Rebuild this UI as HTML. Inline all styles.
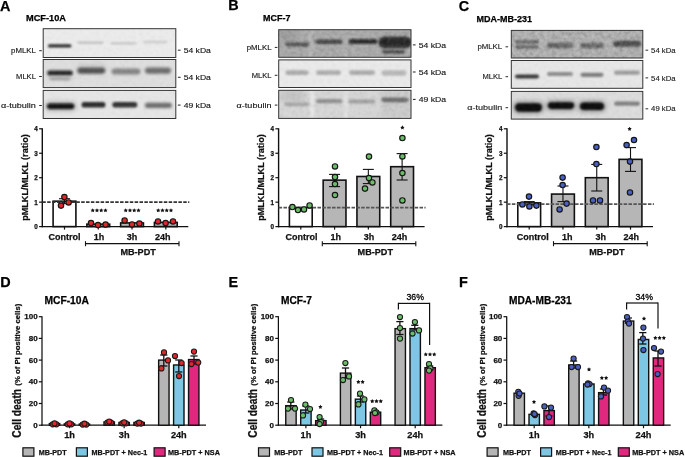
<!DOCTYPE html>
<html><head><meta charset="utf-8"><title>Figure</title>
<style>html,body{margin:0;padding:0;background:#fff;width:685px;height:457px;overflow:hidden}svg{display:block;font-family:"Liberation Sans", sans-serif;will-change:transform;opacity:0.999}</style>
</head><body>
<svg width="685" height="457" viewBox="0 0 685 457" font-family='"Liberation Sans", sans-serif'><defs><filter id="nz" x="0" y="0" width="100%" height="100%"><feTurbulence type="fractalNoise" baseFrequency="0.25" numOctaves="3" seed="7"/><feColorMatrix type="matrix" values="1 0 0 0 0  1 0 0 0 0  1 0 0 0 0  0 0 0 0 1"/></filter><filter id="b1" x="-50%" y="-100%" width="200%" height="300%"><feGaussianBlur stdDeviation="0.9"/></filter><filter id="b2" x="-50%" y="-100%" width="200%" height="300%"><feGaussianBlur stdDeviation="1.25"/></filter><filter id="b3" x="-50%" y="-100%" width="200%" height="300%"><feGaussianBlur stdDeviation="2.5"/></filter><filter id="b4" x="-50%" y="-100%" width="200%" height="300%"><feGaussianBlur stdDeviation="1.8"/></filter></defs><rect width="685" height="457" fill="#fff"/><text x="0.00" y="10.90" font-size="14.4" font-weight="bold" text-anchor="start" fill="#000" stroke="#000" stroke-width="0.25" >A</text>
<text x="228.30" y="10.40" font-size="14.4" font-weight="bold" text-anchor="start" fill="#000" stroke="#000" stroke-width="0.25" >B</text>
<text x="458.70" y="10.90" font-size="14.4" font-weight="bold" text-anchor="start" fill="#000" stroke="#000" stroke-width="0.25" >C</text>
<text x="0.20" y="287.40" font-size="14.4" font-weight="bold" text-anchor="start" fill="#000" stroke="#000" stroke-width="0.25" >D</text>
<text x="228.40" y="287.40" font-size="14.4" font-weight="bold" text-anchor="start" fill="#000" stroke="#000" stroke-width="0.25" >E</text>
<text x="459.00" y="287.40" font-size="14.4" font-weight="bold" text-anchor="start" fill="#000" stroke="#000" stroke-width="0.25" >F</text>
<text x="26.00" y="21.30" font-size="9.1" font-weight="bold" text-anchor="start" fill="#000" stroke="#000" stroke-width="0.25" textLength="40.00" lengthAdjust="spacingAndGlyphs" >MCF-10A</text>
<text x="263.00" y="21.00" font-size="9.1" font-weight="bold" text-anchor="start" fill="#000" stroke="#000" stroke-width="0.25" textLength="27.40" lengthAdjust="spacingAndGlyphs" >MCF-7</text>
<text x="476.60" y="21.90" font-size="9.1" font-weight="bold" text-anchor="start" fill="#000" stroke="#000" stroke-width="0.25" textLength="55.40" lengthAdjust="spacingAndGlyphs" >MDA-MB-231</text>
<clipPath id="c43_0"><rect x="43.20" y="28.70" width="132.60" height="28.80"/></clipPath>
<g clip-path="url(#c43_0)">
<rect x="43.20" y="28.70" width="132.60" height="28.80" fill="#ededed" stroke="none" stroke-width="1" />
<rect x="47.95" y="44.20" width="23.50" height="3.40" rx="1.70" fill="#262626" filter="url(#b1)"/>
<rect x="77.30" y="41.50" width="26.00" height="2.60" rx="1.30" fill="#c2c2c2" filter="url(#b2)"/>
<rect x="110.50" y="41.90" width="26.00" height="2.60" rx="1.30" fill="#c8c8c8" filter="url(#b2)"/>
<rect x="143.00" y="40.70" width="24.00" height="2.60" rx="1.30" fill="#cbcbcb" filter="url(#b2)"/>
<rect x="43.20" y="28.70" width="132.60" height="28.80" filter="url(#nz)" opacity="0.05"/>
</g>
<rect x="43.20" y="28.70" width="132.60" height="28.80" fill="none" stroke="#333" stroke-width="1" />
<clipPath id="c43_1"><rect x="43.20" y="59.50" width="132.60" height="28.10"/></clipPath>
<g clip-path="url(#c43_1)">
<rect x="43.20" y="59.50" width="132.60" height="28.10" fill="#e0e0e0" stroke="none" stroke-width="1" />
<rect x="76.00" y="62.00" width="30.00" height="8.00" rx="4.00" fill="#d2d2d2" filter="url(#b3)"/>
<rect x="47.00" y="70.00" width="26.00" height="6.00" rx="3.00" fill="#777" filter="url(#b4)"/>
<rect x="47.75" y="71.20" width="24.50" height="3.60" rx="1.80" fill="#1a1a1a" filter="url(#b1)"/>
<rect x="49.00" y="76.90" width="22.00" height="3.40" rx="1.70" fill="#999" filter="url(#b4)"/>
<rect x="77.30" y="67.40" width="28.00" height="6.40" rx="3.20" fill="#4a4a4a" filter="url(#b4)"/>
<rect x="111.50" y="68.50" width="29.00" height="6.00" rx="3.00" fill="#7f7f7f" filter="url(#b4)"/>
<rect x="145.00" y="67.40" width="26.00" height="6.40" rx="3.20" fill="#686868" filter="url(#b4)"/>
<rect x="43.20" y="59.50" width="132.60" height="28.10" filter="url(#nz)" opacity="0.06"/>
</g>
<rect x="43.20" y="59.50" width="132.60" height="28.10" fill="none" stroke="#333" stroke-width="1" />
<clipPath id="c43_2"><rect x="43.20" y="90.40" width="132.60" height="28.10"/></clipPath>
<g clip-path="url(#c43_2)">
<rect x="43.20" y="90.40" width="132.60" height="28.10" fill="#e7e7e7" stroke="none" stroke-width="1" />
<rect x="45.70" y="102.20" width="30.00" height="8.00" rx="4.00" fill="#9a9a9a" filter="url(#b3)"/>
<rect x="47.20" y="103.40" width="27.00" height="5.60" rx="2.80" fill="#0a0a0a" filter="url(#b2)"/>
<rect x="81.50" y="102.00" width="24.00" height="5.60" rx="2.80" fill="#262626" filter="url(#b2)"/>
<rect x="112.30" y="102.00" width="25.00" height="5.60" rx="2.80" fill="#2e2e2e" filter="url(#b2)"/>
<rect x="144.90" y="102.80" width="27.00" height="5.20" rx="2.60" fill="#666" filter="url(#b4)"/>
<rect x="43.20" y="90.40" width="132.60" height="28.10" filter="url(#nz)" opacity="0.05"/>
</g>
<rect x="43.20" y="90.40" width="132.60" height="28.10" fill="none" stroke="#333" stroke-width="1" />
<clipPath id="c278_0"><rect x="278.70" y="29.70" width="132.30" height="27.60"/></clipPath>
<g clip-path="url(#c278_0)">
<rect x="278.70" y="29.70" width="132.30" height="27.60" fill="#a3a3a3" stroke="none" stroke-width="1" />
<rect x="277.00" y="30.00" width="22.00" height="10.00" rx="5.00" fill="#939393" filter="url(#b3)"/>
<rect x="309.00" y="29.00" width="4.00" height="30.00" rx="3.00" fill="#b0b0b0" filter="url(#b2)"/>
<rect x="344.00" y="29.00" width="4.00" height="30.00" rx="3.00" fill="#ababab" filter="url(#b2)"/>
<rect x="285.30" y="42.40" width="24.00" height="4.00" rx="2.00" fill="#383838" filter="url(#b2)"/>
<rect x="315.50" y="39.60" width="27.00" height="4.40" rx="2.20" fill="#262626" filter="url(#b2)"/>
<rect x="348.50" y="38.90" width="29.00" height="5.20" rx="2.60" fill="#111" filter="url(#b2)"/>
<rect x="378.50" y="36.40" width="33.00" height="12.00" rx="6.00" fill="#1a1a1a" filter="url(#b2)"/>
<rect x="380.00" y="38.70" width="30.00" height="7.00" rx="3.50" fill="#000" filter="url(#b1)"/>
<rect x="382.00" y="49.90" width="23.00" height="3.80" rx="1.90" fill="#333" filter="url(#b2)"/>
<rect x="278.70" y="29.70" width="132.30" height="27.60" filter="url(#nz)" opacity="0.22"/>
</g>
<rect x="278.70" y="29.70" width="132.30" height="27.60" fill="none" stroke="#333" stroke-width="1" />
<clipPath id="c278_1"><rect x="278.70" y="59.90" width="132.30" height="27.60"/></clipPath>
<g clip-path="url(#c278_1)">
<rect x="278.70" y="59.90" width="132.30" height="27.60" fill="#ebebeb" stroke="none" stroke-width="1" />
<rect x="285.50" y="70.30" width="23.00" height="4.80" rx="2.40" fill="#a9a9a9" filter="url(#b2)"/>
<rect x="316.00" y="70.30" width="25.00" height="4.80" rx="2.40" fill="#adadad" filter="url(#b2)"/>
<rect x="349.00" y="70.30" width="26.00" height="4.80" rx="2.40" fill="#ababab" filter="url(#b2)"/>
<rect x="381.50" y="70.20" width="25.00" height="5.60" rx="2.80" fill="#b8b8b8" filter="url(#b2)"/>
<rect x="278.70" y="59.90" width="132.30" height="27.60" filter="url(#nz)" opacity="0.06"/>
</g>
<rect x="278.70" y="59.90" width="132.30" height="27.60" fill="none" stroke="#333" stroke-width="1" />
<clipPath id="c278_2"><rect x="278.70" y="90.30" width="132.30" height="28.10"/></clipPath>
<g clip-path="url(#c278_2)">
<rect x="278.70" y="90.30" width="132.30" height="28.10" fill="#d8d8d8" stroke="none" stroke-width="1" />
<rect x="280.00" y="90.00" width="26.00" height="12.00" rx="6.00" fill="#c4c4c4" filter="url(#b3)"/>
<rect x="310.00" y="89.00" width="4.00" height="30.00" rx="3.00" fill="#e8e8e8" filter="url(#b2)"/>
<rect x="344.00" y="89.00" width="4.00" height="30.00" rx="3.00" fill="#e4e4e4" filter="url(#b2)"/>
<rect x="381.00" y="89.00" width="30.00" height="30.00" rx="3.00" fill="#cbcbcb" filter="url(#b3)"/>
<rect x="284.50" y="102.40" width="25.00" height="3.80" rx="1.90" fill="#a2a2a2" filter="url(#b2)"/>
<rect x="316.00" y="99.10" width="26.00" height="4.20" rx="2.10" fill="#8a8a8a" filter="url(#b2)"/>
<rect x="348.50" y="99.40" width="27.00" height="4.00" rx="2.00" fill="#9a9a9a" filter="url(#b2)"/>
<rect x="381.50" y="97.40" width="27.00" height="4.80" rx="2.40" fill="#646464" filter="url(#b2)"/>
<rect x="278.70" y="90.30" width="132.30" height="28.10" filter="url(#nz)" opacity="0.12"/>
</g>
<rect x="278.70" y="90.30" width="132.30" height="28.10" fill="none" stroke="#333" stroke-width="1" />
<clipPath id="c511_0"><rect x="511.30" y="30.40" width="131.50" height="27.60"/></clipPath>
<g clip-path="url(#c511_0)">
<rect x="511.30" y="30.40" width="131.50" height="27.60" fill="#a8a8a8" stroke="none" stroke-width="1" />
<rect x="515.50" y="40.30" width="23.00" height="3.20" rx="1.60" fill="#3a3a3a" filter="url(#b2)"/>
<rect x="515.50" y="45.40" width="23.00" height="3.20" rx="1.60" fill="#3a3a3a" filter="url(#b2)"/>
<rect x="547.00" y="42.50" width="26.00" height="6.00" rx="3.00" fill="#4a4a4a" filter="url(#b2)"/>
<rect x="580.00" y="42.90" width="24.00" height="5.40" rx="2.70" fill="#444" filter="url(#b2)"/>
<rect x="613.00" y="40.70" width="28.00" height="6.00" rx="3.00" fill="#222" filter="url(#b2)"/>
<rect x="511.30" y="30.40" width="131.50" height="27.60" filter="url(#nz)" opacity="0.3"/>
</g>
<rect x="511.30" y="30.40" width="131.50" height="27.60" fill="none" stroke="#333" stroke-width="1" />
<clipPath id="c511_1"><rect x="511.30" y="60.50" width="131.50" height="27.80"/></clipPath>
<g clip-path="url(#c511_1)">
<rect x="511.30" y="60.50" width="131.50" height="27.80" fill="#e8e8e8" stroke="none" stroke-width="1" />
<rect x="515.00" y="74.40" width="24.00" height="4.00" rx="2.00" fill="#333" filter="url(#b1)"/>
<rect x="547.00" y="71.90" width="26.00" height="4.20" rx="2.10" fill="#8a8a8a" filter="url(#b2)"/>
<rect x="580.50" y="72.70" width="23.00" height="4.20" rx="2.10" fill="#7a7a7a" filter="url(#b2)"/>
<rect x="614.00" y="70.60" width="26.00" height="4.20" rx="2.10" fill="#9a9a9a" filter="url(#b2)"/>
<rect x="511.30" y="60.50" width="131.50" height="27.80" filter="url(#nz)" opacity="0.06"/>
</g>
<rect x="511.30" y="60.50" width="131.50" height="27.80" fill="none" stroke="#333" stroke-width="1" />
<clipPath id="c511_2"><rect x="511.30" y="91.40" width="131.50" height="27.70"/></clipPath>
<g clip-path="url(#c511_2)">
<rect x="511.30" y="91.40" width="131.50" height="27.70" fill="#dedede" stroke="none" stroke-width="1" />
<rect x="513.00" y="101.50" width="31.00" height="12.00" rx="6.00" fill="#8a8a8a" filter="url(#b3)"/>
<rect x="546.00" y="100.60" width="30.00" height="10.00" rx="5.00" fill="#8a8a8a" filter="url(#b3)"/>
<rect x="578.00" y="100.80" width="28.00" height="11.00" rx="5.50" fill="#8a8a8a" filter="url(#b3)"/>
<rect x="515.00" y="103.30" width="27.00" height="8.40" rx="4.20" fill="#000" filter="url(#b1)"/>
<rect x="548.00" y="102.30" width="26.00" height="6.60" rx="3.30" fill="#000" filter="url(#b1)"/>
<rect x="580.00" y="102.50" width="24.00" height="7.60" rx="3.80" fill="#000" filter="url(#b1)"/>
<rect x="614.00" y="101.40" width="26.00" height="4.40" rx="2.20" fill="#7c7c7c" filter="url(#b2)"/>
<rect x="511.30" y="91.40" width="131.50" height="27.70" filter="url(#nz)" opacity="0.08"/>
</g>
<rect x="511.30" y="91.40" width="131.50" height="27.70" fill="none" stroke="#333" stroke-width="1" />
<text x="11.10" y="53.20" font-size="7.6" font-weight="normal" text-anchor="start" fill="#151515" textLength="24.80" lengthAdjust="spacingAndGlyphs" stroke="#151515" stroke-width="0.14">pMLKL</text>
<line x1="39.20" y1="50.70" x2="41.80" y2="50.70" stroke="#151515" stroke-width="0.95" />
<text x="16.10" y="79.00" font-size="7.6" font-weight="normal" text-anchor="start" fill="#151515" textLength="19.80" lengthAdjust="spacingAndGlyphs" stroke="#151515" stroke-width="0.14">MLKL</text>
<line x1="39.20" y1="76.50" x2="41.80" y2="76.50" stroke="#151515" stroke-width="0.95" />
<text x="1.00" y="108.00" font-size="7.6" font-weight="normal" text-anchor="start" fill="#151515" textLength="34.90" lengthAdjust="spacingAndGlyphs" stroke="#151515" stroke-width="0.14">α-tubulin</text>
<line x1="39.20" y1="105.50" x2="41.80" y2="105.50" stroke="#151515" stroke-width="0.95" />
<line x1="177.90" y1="50.20" x2="180.60" y2="50.20" stroke="#151515" stroke-width="0.95" />
<text x="183.70" y="52.80" font-size="8.1" font-weight="normal" text-anchor="start" fill="#151515" textLength="27.20" lengthAdjust="spacingAndGlyphs" stroke="#151515" stroke-width="0.14">54 kDa</text>
<line x1="177.90" y1="77.30" x2="180.60" y2="77.30" stroke="#151515" stroke-width="0.95" />
<text x="183.70" y="79.90" font-size="8.1" font-weight="normal" text-anchor="start" fill="#151515" textLength="27.20" lengthAdjust="spacingAndGlyphs" stroke="#151515" stroke-width="0.14">54 kDa</text>
<line x1="177.90" y1="105.10" x2="180.60" y2="105.10" stroke="#151515" stroke-width="0.95" />
<text x="183.70" y="107.70" font-size="8.1" font-weight="normal" text-anchor="start" fill="#151515" textLength="27.20" lengthAdjust="spacingAndGlyphs" stroke="#151515" stroke-width="0.14">49 kDa</text>
<text x="246.70" y="49.90" font-size="7.6" font-weight="normal" text-anchor="start" fill="#151515" textLength="24.80" lengthAdjust="spacingAndGlyphs" stroke="#151515" stroke-width="0.14">pMLKL</text>
<line x1="274.80" y1="47.40" x2="277.40" y2="47.40" stroke="#151515" stroke-width="0.95" />
<text x="251.70" y="77.80" font-size="7.6" font-weight="normal" text-anchor="start" fill="#151515" textLength="19.80" lengthAdjust="spacingAndGlyphs" stroke="#151515" stroke-width="0.14">MLKL</text>
<line x1="274.80" y1="75.30" x2="277.40" y2="75.30" stroke="#151515" stroke-width="0.95" />
<text x="236.60" y="107.60" font-size="7.6" font-weight="normal" text-anchor="start" fill="#151515" textLength="34.90" lengthAdjust="spacingAndGlyphs" stroke="#151515" stroke-width="0.14">α-tubulin</text>
<line x1="274.80" y1="105.10" x2="277.40" y2="105.10" stroke="#151515" stroke-width="0.95" />
<line x1="412.90" y1="44.90" x2="415.60" y2="44.90" stroke="#151515" stroke-width="0.95" />
<text x="418.70" y="47.50" font-size="8.1" font-weight="normal" text-anchor="start" fill="#151515" textLength="27.40" lengthAdjust="spacingAndGlyphs" stroke="#151515" stroke-width="0.14">54 kDa</text>
<line x1="412.90" y1="72.00" x2="415.60" y2="72.00" stroke="#151515" stroke-width="0.95" />
<text x="418.70" y="74.60" font-size="8.1" font-weight="normal" text-anchor="start" fill="#151515" textLength="27.40" lengthAdjust="spacingAndGlyphs" stroke="#151515" stroke-width="0.14">54 kDa</text>
<line x1="412.90" y1="99.40" x2="415.60" y2="99.40" stroke="#151515" stroke-width="0.95" />
<text x="418.70" y="102.00" font-size="8.1" font-weight="normal" text-anchor="start" fill="#151515" textLength="27.40" lengthAdjust="spacingAndGlyphs" stroke="#151515" stroke-width="0.14">49 kDa</text>
<text x="477.40" y="49.30" font-size="7.6" font-weight="normal" text-anchor="start" fill="#222" textLength="24.80" lengthAdjust="spacingAndGlyphs" stroke="#222" stroke-width="0.14">pMLKL</text>
<line x1="505.50" y1="46.80" x2="508.10" y2="46.80" stroke="#222" stroke-width="0.95" />
<text x="482.40" y="79.20" font-size="7.6" font-weight="normal" text-anchor="start" fill="#222" textLength="19.80" lengthAdjust="spacingAndGlyphs" stroke="#222" stroke-width="0.14">MLKL</text>
<line x1="505.50" y1="76.70" x2="508.10" y2="76.70" stroke="#222" stroke-width="0.95" />
<text x="467.30" y="110.20" font-size="7.6" font-weight="normal" text-anchor="start" fill="#222" textLength="34.90" lengthAdjust="spacingAndGlyphs" stroke="#222" stroke-width="0.14">α-tubulin</text>
<line x1="505.50" y1="107.70" x2="508.10" y2="107.70" stroke="#222" stroke-width="0.95" />
<line x1="645.50" y1="50.20" x2="648.20" y2="50.20" stroke="#222" stroke-width="0.95" />
<text x="651.10" y="52.80" font-size="8.1" font-weight="normal" text-anchor="start" fill="#222" textLength="24.50" lengthAdjust="spacingAndGlyphs" stroke="#222" stroke-width="0.14">54 kDa</text>
<line x1="645.50" y1="77.90" x2="648.20" y2="77.90" stroke="#222" stroke-width="0.95" />
<text x="651.10" y="80.50" font-size="8.1" font-weight="normal" text-anchor="start" fill="#222" textLength="24.50" lengthAdjust="spacingAndGlyphs" stroke="#222" stroke-width="0.14">54 kDa</text>
<line x1="645.50" y1="108.80" x2="648.20" y2="108.80" stroke="#222" stroke-width="0.95" />
<text x="651.10" y="111.40" font-size="8.1" font-weight="normal" text-anchor="start" fill="#222" textLength="24.50" lengthAdjust="spacingAndGlyphs" stroke="#222" stroke-width="0.14">49 kDa</text>
<line x1="42.30" y1="128.30" x2="42.30" y2="227.30" stroke="#111" stroke-width="1.4" />
<line x1="41.60" y1="226.60" x2="188.30" y2="226.60" stroke="#111" stroke-width="1.4" />
<line x1="39.10" y1="226.60" x2="42.30" y2="226.60" stroke="#111" stroke-width="1.2" />
<text x="37.80" y="229.10" font-size="6.3" font-weight="bold" text-anchor="end" fill="#111" stroke="#111" stroke-width="0.25" >0</text>
<line x1="39.10" y1="202.15" x2="42.30" y2="202.15" stroke="#111" stroke-width="1.2" />
<text x="37.80" y="204.65" font-size="6.3" font-weight="bold" text-anchor="end" fill="#111" stroke="#111" stroke-width="0.25" >1</text>
<line x1="39.10" y1="177.70" x2="42.30" y2="177.70" stroke="#111" stroke-width="1.2" />
<text x="37.80" y="180.20" font-size="6.3" font-weight="bold" text-anchor="end" fill="#111" stroke="#111" stroke-width="0.25" >2</text>
<line x1="39.10" y1="153.25" x2="42.30" y2="153.25" stroke="#111" stroke-width="1.2" />
<text x="37.80" y="155.75" font-size="6.3" font-weight="bold" text-anchor="end" fill="#111" stroke="#111" stroke-width="0.25" >3</text>
<line x1="39.10" y1="128.80" x2="42.30" y2="128.80" stroke="#111" stroke-width="1.2" />
<text x="37.80" y="131.30" font-size="6.3" font-weight="bold" text-anchor="end" fill="#111" stroke="#111" stroke-width="0.25" >4</text>
<rect x="53.10" y="201.17" width="22.80" height="25.43" fill="#fff" stroke="#111" stroke-width="1.6" />
<line x1="64.50" y1="226.60" x2="64.50" y2="229.60" stroke="#111" stroke-width="1.2" />
<rect x="86.87" y="224.16" width="22.80" height="2.44" fill="#b6b6b6" stroke="#111" stroke-width="1.6" />
<line x1="98.27" y1="226.60" x2="98.27" y2="229.60" stroke="#111" stroke-width="1.2" />
<rect x="120.64" y="222.93" width="22.80" height="3.67" fill="#b6b6b6" stroke="#111" stroke-width="1.6" />
<line x1="132.04" y1="226.60" x2="132.04" y2="229.60" stroke="#111" stroke-width="1.2" />
<rect x="154.41" y="222.44" width="22.80" height="4.16" fill="#b6b6b6" stroke="#111" stroke-width="1.6" />
<line x1="165.81" y1="226.60" x2="165.81" y2="229.60" stroke="#111" stroke-width="1.2" />
<line x1="42.30" y1="202.15" x2="189.30" y2="202.15" stroke="#333" stroke-width="1.7" stroke-dasharray="3.5 1.36"/>
<line x1="64.50" y1="198.73" x2="64.50" y2="203.62" stroke="#111" stroke-width="1.1" />
<line x1="59.00" y1="198.73" x2="70.00" y2="198.73" stroke="#111" stroke-width="1.1" />
<line x1="59.00" y1="203.62" x2="70.00" y2="203.62" stroke="#111" stroke-width="1.1" />
<circle cx="64.40" cy="197.00" r="2.7" fill="#e3262b" stroke="#151515" stroke-width="1.15"/>
<circle cx="68.60" cy="202.40" r="2.7" fill="#e3262b" stroke="#151515" stroke-width="1.15"/>
<circle cx="61.00" cy="205.60" r="2.7" fill="#e3262b" stroke="#151515" stroke-width="1.15"/>
<circle cx="91.00" cy="223.00" r="2.7" fill="#e3262b" stroke="#151515" stroke-width="1.15"/>
<circle cx="98.00" cy="225.00" r="2.7" fill="#e3262b" stroke="#151515" stroke-width="1.15"/>
<circle cx="105.60" cy="224.60" r="2.7" fill="#e3262b" stroke="#151515" stroke-width="1.15"/>
<circle cx="124.60" cy="220.40" r="2.7" fill="#e3262b" stroke="#151515" stroke-width="1.15"/>
<circle cx="132.00" cy="224.40" r="2.7" fill="#e3262b" stroke="#151515" stroke-width="1.15"/>
<circle cx="139.40" cy="223.60" r="2.7" fill="#e3262b" stroke="#151515" stroke-width="1.15"/>
<circle cx="158.00" cy="221.40" r="2.7" fill="#e3262b" stroke="#151515" stroke-width="1.15"/>
<circle cx="165.60" cy="223.00" r="2.7" fill="#e3262b" stroke="#151515" stroke-width="1.15"/>
<circle cx="173.00" cy="221.40" r="2.7" fill="#e3262b" stroke="#151515" stroke-width="1.15"/>
<text x="64.60" y="239.90" font-size="9.0" font-weight="bold" text-anchor="middle" fill="#111" stroke="#111" stroke-width="0.25" >Control</text>
<text x="99.10" y="239.90" font-size="9.0" font-weight="bold" text-anchor="middle" fill="#111" stroke="#111" stroke-width="0.25" >1h</text>
<text x="132.10" y="239.90" font-size="9.0" font-weight="bold" text-anchor="middle" fill="#111" stroke="#111" stroke-width="0.25" >3h</text>
<text x="162.70" y="239.90" font-size="9.0" font-weight="bold" text-anchor="middle" fill="#111" stroke="#111" stroke-width="0.25" >24h</text>
<line x1="85.50" y1="243.60" x2="179.00" y2="243.60" stroke="#111" stroke-width="1.1" />
<line x1="85.50" y1="241.20" x2="85.50" y2="246.20" stroke="#111" stroke-width="1.1" />
<line x1="179.00" y1="241.20" x2="179.00" y2="246.20" stroke="#111" stroke-width="1.1" />
<text x="138.10" y="255.20" font-size="9.1" font-weight="bold" text-anchor="middle" fill="#111" stroke="#111" stroke-width="0.25" >MB-PDT</text>
<text x="28.00" y="177.50" font-size="9.1" font-weight="bold" text-anchor="middle" fill="#111" stroke="#111" stroke-width="0.25" textLength="86.70" lengthAdjust="spacingAndGlyphs" transform="rotate(-90 28.00 177.50)" >pMLKL/MLKL (ratio)</text>
<polygon points="92.72,208.15 93.41,209.45 94.86,209.70 93.84,210.76 94.05,212.22 92.72,211.57 91.40,212.22 91.61,210.76 90.59,209.70 92.04,209.45" fill="#111"/>
<polygon points="96.97,208.15 97.66,209.45 99.11,209.70 98.09,210.76 98.30,212.22 96.97,211.57 95.65,212.22 95.86,210.76 94.84,209.70 96.29,209.45" fill="#111"/>
<polygon points="101.22,208.15 101.91,209.45 103.36,209.70 102.34,210.76 102.55,212.22 101.22,211.57 99.90,212.22 100.11,210.76 99.09,209.70 100.54,209.45" fill="#111"/>
<polygon points="105.47,208.15 106.16,209.45 107.61,209.70 106.59,210.76 106.80,212.22 105.47,211.57 104.15,212.22 104.36,210.76 103.34,209.70 104.79,209.45" fill="#111"/>
<polygon points="125.72,208.15 126.41,209.45 127.86,209.70 126.84,210.76 127.05,212.22 125.72,211.57 124.40,212.22 124.61,210.76 123.59,209.70 125.04,209.45" fill="#111"/>
<polygon points="129.97,208.15 130.66,209.45 132.11,209.70 131.09,210.76 131.30,212.22 129.97,211.57 128.65,212.22 128.86,210.76 127.84,209.70 129.29,209.45" fill="#111"/>
<polygon points="134.22,208.15 134.91,209.45 136.36,209.70 135.34,210.76 135.55,212.22 134.22,211.57 132.90,212.22 133.11,210.76 132.09,209.70 133.54,209.45" fill="#111"/>
<polygon points="138.47,208.15 139.16,209.45 140.61,209.70 139.59,210.76 139.80,212.22 138.47,211.57 137.15,212.22 137.36,210.76 136.34,209.70 137.79,209.45" fill="#111"/>
<polygon points="158.22,208.15 158.91,209.45 160.36,209.70 159.34,210.76 159.55,212.22 158.22,211.57 156.90,212.22 157.11,210.76 156.09,209.70 157.54,209.45" fill="#111"/>
<polygon points="162.47,208.15 163.16,209.45 164.61,209.70 163.59,210.76 163.80,212.22 162.47,211.57 161.15,212.22 161.36,210.76 160.34,209.70 161.79,209.45" fill="#111"/>
<polygon points="166.72,208.15 167.41,209.45 168.86,209.70 167.84,210.76 168.05,212.22 166.72,211.57 165.40,212.22 165.61,210.76 164.59,209.70 166.04,209.45" fill="#111"/>
<polygon points="170.97,208.15 171.66,209.45 173.11,209.70 172.09,210.76 172.30,212.22 170.97,211.57 169.65,212.22 169.86,210.76 168.84,209.70 170.29,209.45" fill="#111"/>
<line x1="278.60" y1="128.30" x2="278.60" y2="227.30" stroke="#111" stroke-width="1.4" />
<line x1="277.90" y1="226.60" x2="424.60" y2="226.60" stroke="#111" stroke-width="1.4" />
<line x1="275.40" y1="226.60" x2="278.60" y2="226.60" stroke="#111" stroke-width="1.2" />
<text x="274.10" y="229.10" font-size="6.3" font-weight="bold" text-anchor="end" fill="#111" stroke="#111" stroke-width="0.25" >0</text>
<line x1="275.40" y1="202.15" x2="278.60" y2="202.15" stroke="#111" stroke-width="1.2" />
<text x="274.10" y="204.65" font-size="6.3" font-weight="bold" text-anchor="end" fill="#111" stroke="#111" stroke-width="0.25" >1</text>
<line x1="275.40" y1="177.70" x2="278.60" y2="177.70" stroke="#111" stroke-width="1.2" />
<text x="274.10" y="180.20" font-size="6.3" font-weight="bold" text-anchor="end" fill="#111" stroke="#111" stroke-width="0.25" >2</text>
<line x1="275.40" y1="153.25" x2="278.60" y2="153.25" stroke="#111" stroke-width="1.2" />
<text x="274.10" y="155.75" font-size="6.3" font-weight="bold" text-anchor="end" fill="#111" stroke="#111" stroke-width="0.25" >3</text>
<line x1="275.40" y1="128.80" x2="278.60" y2="128.80" stroke="#111" stroke-width="1.2" />
<text x="274.10" y="131.30" font-size="6.3" font-weight="bold" text-anchor="end" fill="#111" stroke="#111" stroke-width="0.25" >4</text>
<rect x="289.40" y="207.53" width="22.80" height="19.07" fill="#fff" stroke="#111" stroke-width="1.6" />
<line x1="300.80" y1="226.60" x2="300.80" y2="229.60" stroke="#111" stroke-width="1.2" />
<rect x="323.17" y="180.14" width="22.80" height="46.46" fill="#b6b6b6" stroke="#111" stroke-width="1.6" />
<line x1="334.57" y1="226.60" x2="334.57" y2="229.60" stroke="#111" stroke-width="1.2" />
<rect x="356.94" y="176.48" width="22.80" height="50.12" fill="#b6b6b6" stroke="#111" stroke-width="1.6" />
<line x1="368.34" y1="226.60" x2="368.34" y2="229.60" stroke="#111" stroke-width="1.2" />
<rect x="390.71" y="166.70" width="22.80" height="59.90" fill="#b6b6b6" stroke="#111" stroke-width="1.6" />
<line x1="402.11" y1="226.60" x2="402.11" y2="229.60" stroke="#111" stroke-width="1.2" />
<line x1="278.60" y1="207.53" x2="425.60" y2="207.53" stroke="#555" stroke-width="1.7" stroke-dasharray="3.5 1.36"/>
<line x1="334.57" y1="174.40" x2="334.57" y2="186.60" stroke="#111" stroke-width="1.1" />
<line x1="329.07" y1="174.40" x2="340.07" y2="174.40" stroke="#111" stroke-width="1.1" />
<line x1="329.07" y1="186.60" x2="340.07" y2="186.60" stroke="#111" stroke-width="1.1" />
<line x1="368.34" y1="169.40" x2="368.34" y2="183.60" stroke="#111" stroke-width="1.1" />
<line x1="362.84" y1="169.40" x2="373.84" y2="169.40" stroke="#111" stroke-width="1.1" />
<line x1="362.84" y1="183.60" x2="373.84" y2="183.60" stroke="#111" stroke-width="1.1" />
<line x1="402.11" y1="153.60" x2="402.11" y2="180.00" stroke="#111" stroke-width="1.1" />
<line x1="396.61" y1="153.60" x2="407.61" y2="153.60" stroke="#111" stroke-width="1.1" />
<line x1="396.61" y1="180.00" x2="407.61" y2="180.00" stroke="#111" stroke-width="1.1" />
<circle cx="292.40" cy="207.00" r="2.7" fill="#6cbd6a" stroke="#151515" stroke-width="1.15"/>
<circle cx="298.00" cy="210.00" r="2.7" fill="#6cbd6a" stroke="#151515" stroke-width="1.15"/>
<circle cx="304.00" cy="209.40" r="2.7" fill="#6cbd6a" stroke="#151515" stroke-width="1.15"/>
<circle cx="309.60" cy="205.40" r="2.7" fill="#6cbd6a" stroke="#151515" stroke-width="1.15"/>
<circle cx="335.00" cy="166.40" r="2.7" fill="#6cbd6a" stroke="#151515" stroke-width="1.15"/>
<circle cx="335.00" cy="177.00" r="2.7" fill="#6cbd6a" stroke="#151515" stroke-width="1.15"/>
<circle cx="335.00" cy="184.00" r="2.7" fill="#6cbd6a" stroke="#151515" stroke-width="1.15"/>
<circle cx="335.00" cy="195.00" r="2.7" fill="#6cbd6a" stroke="#151515" stroke-width="1.15"/>
<circle cx="369.00" cy="156.60" r="2.7" fill="#6cbd6a" stroke="#151515" stroke-width="1.15"/>
<circle cx="369.00" cy="178.00" r="2.7" fill="#6cbd6a" stroke="#151515" stroke-width="1.15"/>
<circle cx="372.40" cy="182.40" r="2.7" fill="#6cbd6a" stroke="#151515" stroke-width="1.15"/>
<circle cx="365.00" cy="188.60" r="2.7" fill="#6cbd6a" stroke="#151515" stroke-width="1.15"/>
<circle cx="402.40" cy="138.00" r="2.7" fill="#6cbd6a" stroke="#151515" stroke-width="1.15"/>
<circle cx="402.40" cy="156.40" r="2.7" fill="#6cbd6a" stroke="#151515" stroke-width="1.15"/>
<circle cx="402.40" cy="173.00" r="2.7" fill="#6cbd6a" stroke="#151515" stroke-width="1.15"/>
<circle cx="402.40" cy="200.40" r="2.7" fill="#6cbd6a" stroke="#151515" stroke-width="1.15"/>
<text x="301.40" y="239.90" font-size="9.0" font-weight="bold" text-anchor="middle" fill="#111" stroke="#111" stroke-width="0.25" >Control</text>
<text x="335.80" y="239.90" font-size="9.0" font-weight="bold" text-anchor="middle" fill="#111" stroke="#111" stroke-width="0.25" >1h</text>
<text x="368.90" y="239.90" font-size="9.0" font-weight="bold" text-anchor="middle" fill="#111" stroke="#111" stroke-width="0.25" >3h</text>
<text x="399.60" y="239.90" font-size="9.0" font-weight="bold" text-anchor="middle" fill="#111" stroke="#111" stroke-width="0.25" >24h</text>
<line x1="322.30" y1="243.60" x2="415.80" y2="243.60" stroke="#111" stroke-width="1.1" />
<line x1="322.30" y1="241.20" x2="322.30" y2="246.20" stroke="#111" stroke-width="1.1" />
<line x1="415.80" y1="241.20" x2="415.80" y2="246.20" stroke="#111" stroke-width="1.1" />
<text x="375.30" y="255.20" font-size="9.1" font-weight="bold" text-anchor="middle" fill="#111" stroke="#111" stroke-width="0.25" >MB-PDT</text>
<text x="264.00" y="177.50" font-size="9.1" font-weight="bold" text-anchor="middle" fill="#111" stroke="#111" stroke-width="0.25" textLength="86.70" lengthAdjust="spacingAndGlyphs" transform="rotate(-90 264.00 177.50)" >pMLKL/MLKL (ratio)</text>
<polygon points="402.40,125.35 403.09,126.65 404.54,126.90 403.51,127.96 403.72,129.42 402.40,128.77 401.08,129.42 401.29,127.96 400.26,126.90 401.71,126.65" fill="#111"/>
<line x1="507.00" y1="128.30" x2="507.00" y2="227.30" stroke="#111" stroke-width="1.4" />
<line x1="506.30" y1="226.60" x2="653.00" y2="226.60" stroke="#111" stroke-width="1.4" />
<line x1="503.80" y1="226.60" x2="507.00" y2="226.60" stroke="#111" stroke-width="1.2" />
<text x="502.50" y="229.10" font-size="6.3" font-weight="bold" text-anchor="end" fill="#111" stroke="#111" stroke-width="0.25" >0</text>
<line x1="503.80" y1="202.15" x2="507.00" y2="202.15" stroke="#111" stroke-width="1.2" />
<text x="502.50" y="204.65" font-size="6.3" font-weight="bold" text-anchor="end" fill="#111" stroke="#111" stroke-width="0.25" >1</text>
<line x1="503.80" y1="177.70" x2="507.00" y2="177.70" stroke="#111" stroke-width="1.2" />
<text x="502.50" y="180.20" font-size="6.3" font-weight="bold" text-anchor="end" fill="#111" stroke="#111" stroke-width="0.25" >2</text>
<line x1="503.80" y1="153.25" x2="507.00" y2="153.25" stroke="#111" stroke-width="1.2" />
<text x="502.50" y="155.75" font-size="6.3" font-weight="bold" text-anchor="end" fill="#111" stroke="#111" stroke-width="0.25" >3</text>
<line x1="503.80" y1="128.80" x2="507.00" y2="128.80" stroke="#111" stroke-width="1.2" />
<text x="502.50" y="131.30" font-size="6.3" font-weight="bold" text-anchor="end" fill="#111" stroke="#111" stroke-width="0.25" >4</text>
<rect x="517.80" y="202.88" width="22.80" height="23.72" fill="#fff" stroke="#111" stroke-width="1.6" />
<line x1="529.20" y1="226.60" x2="529.20" y2="229.60" stroke="#111" stroke-width="1.2" />
<rect x="551.57" y="194.08" width="22.80" height="32.52" fill="#b6b6b6" stroke="#111" stroke-width="1.6" />
<line x1="562.97" y1="226.60" x2="562.97" y2="229.60" stroke="#111" stroke-width="1.2" />
<rect x="585.34" y="177.70" width="22.80" height="48.90" fill="#b6b6b6" stroke="#111" stroke-width="1.6" />
<line x1="596.74" y1="226.60" x2="596.74" y2="229.60" stroke="#111" stroke-width="1.2" />
<rect x="619.11" y="159.36" width="22.80" height="67.24" fill="#b6b6b6" stroke="#111" stroke-width="1.6" />
<line x1="630.51" y1="226.60" x2="630.51" y2="229.60" stroke="#111" stroke-width="1.2" />
<line x1="507.00" y1="204.11" x2="654.00" y2="204.11" stroke="#555" stroke-width="1.7" stroke-dasharray="3.5 1.36"/>
<line x1="529.20" y1="201.60" x2="529.20" y2="205.00" stroke="#111" stroke-width="1.1" />
<line x1="523.70" y1="201.60" x2="534.70" y2="201.60" stroke="#111" stroke-width="1.1" />
<line x1="523.70" y1="205.00" x2="534.70" y2="205.00" stroke="#111" stroke-width="1.1" />
<line x1="562.97" y1="186.00" x2="562.97" y2="201.60" stroke="#111" stroke-width="1.1" />
<line x1="557.47" y1="186.00" x2="568.47" y2="186.00" stroke="#111" stroke-width="1.1" />
<line x1="557.47" y1="201.60" x2="568.47" y2="201.60" stroke="#111" stroke-width="1.1" />
<line x1="596.74" y1="164.40" x2="596.74" y2="191.00" stroke="#111" stroke-width="1.1" />
<line x1="591.24" y1="164.40" x2="602.24" y2="164.40" stroke="#111" stroke-width="1.1" />
<line x1="591.24" y1="191.00" x2="602.24" y2="191.00" stroke="#111" stroke-width="1.1" />
<line x1="630.51" y1="147.60" x2="630.51" y2="171.40" stroke="#111" stroke-width="1.1" />
<line x1="625.01" y1="147.60" x2="636.01" y2="147.60" stroke="#111" stroke-width="1.1" />
<line x1="625.01" y1="171.40" x2="636.01" y2="171.40" stroke="#111" stroke-width="1.1" />
<circle cx="529.00" cy="196.60" r="2.7" fill="#4a5fc1" stroke="#151515" stroke-width="1.15"/>
<circle cx="522.40" cy="204.40" r="2.7" fill="#4a5fc1" stroke="#151515" stroke-width="1.15"/>
<circle cx="529.40" cy="206.40" r="2.7" fill="#4a5fc1" stroke="#151515" stroke-width="1.15"/>
<circle cx="536.40" cy="205.60" r="2.7" fill="#4a5fc1" stroke="#151515" stroke-width="1.15"/>
<circle cx="562.60" cy="177.60" r="2.7" fill="#4a5fc1" stroke="#151515" stroke-width="1.15"/>
<circle cx="562.60" cy="185.00" r="2.7" fill="#4a5fc1" stroke="#151515" stroke-width="1.15"/>
<circle cx="566.60" cy="203.60" r="2.7" fill="#4a5fc1" stroke="#151515" stroke-width="1.15"/>
<circle cx="559.60" cy="209.40" r="2.7" fill="#4a5fc1" stroke="#151515" stroke-width="1.15"/>
<circle cx="596.40" cy="147.00" r="2.7" fill="#4a5fc1" stroke="#151515" stroke-width="1.15"/>
<circle cx="596.40" cy="164.00" r="2.7" fill="#4a5fc1" stroke="#151515" stroke-width="1.15"/>
<circle cx="593.00" cy="200.40" r="2.7" fill="#4a5fc1" stroke="#151515" stroke-width="1.15"/>
<circle cx="600.00" cy="200.40" r="2.7" fill="#4a5fc1" stroke="#151515" stroke-width="1.15"/>
<circle cx="626.60" cy="145.00" r="2.7" fill="#4a5fc1" stroke="#151515" stroke-width="1.15"/>
<circle cx="634.00" cy="140.00" r="2.7" fill="#4a5fc1" stroke="#151515" stroke-width="1.15"/>
<circle cx="630.00" cy="161.60" r="2.7" fill="#4a5fc1" stroke="#151515" stroke-width="1.15"/>
<circle cx="630.00" cy="192.40" r="2.7" fill="#4a5fc1" stroke="#151515" stroke-width="1.15"/>
<text x="532.80" y="239.90" font-size="9.0" font-weight="bold" text-anchor="middle" fill="#111" stroke="#111" stroke-width="0.25" >Control</text>
<text x="567.30" y="239.90" font-size="9.0" font-weight="bold" text-anchor="middle" fill="#111" stroke="#111" stroke-width="0.25" >1h</text>
<text x="600.70" y="239.90" font-size="9.0" font-weight="bold" text-anchor="middle" fill="#111" stroke="#111" stroke-width="0.25" >3h</text>
<text x="631.30" y="239.90" font-size="9.0" font-weight="bold" text-anchor="middle" fill="#111" stroke="#111" stroke-width="0.25" >24h</text>
<line x1="553.50" y1="243.60" x2="647.20" y2="243.60" stroke="#111" stroke-width="1.1" />
<line x1="553.50" y1="241.20" x2="553.50" y2="246.20" stroke="#111" stroke-width="1.1" />
<line x1="647.20" y1="241.20" x2="647.20" y2="246.20" stroke="#111" stroke-width="1.1" />
<text x="606.90" y="255.20" font-size="9.1" font-weight="bold" text-anchor="middle" fill="#111" stroke="#111" stroke-width="0.25" >MB-PDT</text>
<text x="492.00" y="177.50" font-size="9.1" font-weight="bold" text-anchor="middle" fill="#111" stroke="#111" stroke-width="0.25" textLength="86.70" lengthAdjust="spacingAndGlyphs" transform="rotate(-90 492.00 177.50)" >pMLKL/MLKL (ratio)</text>
<polygon points="629.60,126.75 630.29,128.05 631.74,128.30 630.71,129.36 630.92,130.82 629.60,130.17 628.28,130.82 628.49,129.36 627.46,128.30 628.91,128.05" fill="#111"/>
<line x1="42.00" y1="316.20" x2="42.00" y2="425.80" stroke="#111" stroke-width="1.25" />
<line x1="41.40" y1="425.20" x2="206.00" y2="425.20" stroke="#111" stroke-width="1.25" />
<line x1="38.80" y1="425.20" x2="42.00" y2="425.20" stroke="#111" stroke-width="1.2" />
<text x="37.60" y="427.70" font-size="8" font-weight="bold" text-anchor="end" fill="#111" stroke="#111" stroke-width="0.25" >0</text>
<line x1="38.80" y1="403.50" x2="42.00" y2="403.50" stroke="#111" stroke-width="1.2" />
<text x="37.60" y="406.00" font-size="8" font-weight="bold" text-anchor="end" fill="#111" stroke="#111" stroke-width="0.25" >20</text>
<line x1="38.80" y1="381.80" x2="42.00" y2="381.80" stroke="#111" stroke-width="1.2" />
<text x="37.60" y="384.30" font-size="8" font-weight="bold" text-anchor="end" fill="#111" stroke="#111" stroke-width="0.25" >40</text>
<line x1="38.80" y1="360.10" x2="42.00" y2="360.10" stroke="#111" stroke-width="1.2" />
<text x="37.60" y="362.60" font-size="8" font-weight="bold" text-anchor="end" fill="#111" stroke="#111" stroke-width="0.25" >60</text>
<line x1="38.80" y1="338.40" x2="42.00" y2="338.40" stroke="#111" stroke-width="1.2" />
<text x="37.60" y="340.90" font-size="8" font-weight="bold" text-anchor="end" fill="#111" stroke="#111" stroke-width="0.25" >80</text>
<line x1="38.80" y1="316.70" x2="42.00" y2="316.70" stroke="#111" stroke-width="1.2" />
<text x="37.60" y="319.20" font-size="8" font-weight="bold" text-anchor="end" fill="#111" stroke="#111" stroke-width="0.25" >100</text>
<line x1="69.50" y1="425.20" x2="69.50" y2="428.20" stroke="#111" stroke-width="1.2" />
<text x="69.50" y="437.80" font-size="9.2" font-weight="bold" text-anchor="middle" fill="#111" stroke="#111" stroke-width="0.25" >1h</text>
<rect x="49.35" y="423.57" width="10.40" height="1.63" fill="#b5b5b5" stroke="#111" stroke-width="1.4" />
<rect x="64.30" y="423.90" width="10.40" height="1.30" fill="#7dc6e4" stroke="#111" stroke-width="1.4" />
<rect x="79.25" y="424.12" width="10.40" height="1.08" fill="#e0287f" stroke="#111" stroke-width="1.4" />
<line x1="124.15" y1="425.20" x2="124.15" y2="428.20" stroke="#111" stroke-width="1.2" />
<text x="124.15" y="437.80" font-size="9.2" font-weight="bold" text-anchor="middle" fill="#111" stroke="#111" stroke-width="0.25" >3h</text>
<rect x="104.00" y="421.94" width="10.40" height="3.25" fill="#b5b5b5" stroke="#111" stroke-width="1.4" />
<rect x="118.95" y="422.49" width="10.40" height="2.71" fill="#7dc6e4" stroke="#111" stroke-width="1.4" />
<rect x="133.90" y="422.49" width="10.40" height="2.71" fill="#e0287f" stroke="#111" stroke-width="1.4" />
<line x1="178.80" y1="425.20" x2="178.80" y2="428.20" stroke="#111" stroke-width="1.2" />
<text x="178.80" y="437.80" font-size="9.2" font-weight="bold" text-anchor="middle" fill="#111" stroke="#111" stroke-width="0.25" >24h</text>
<rect x="158.65" y="360.10" width="10.40" height="65.10" fill="#b5b5b5" stroke="#111" stroke-width="1.4" />
<rect x="173.60" y="364.98" width="10.40" height="60.22" fill="#7dc6e4" stroke="#111" stroke-width="1.4" />
<rect x="188.55" y="359.56" width="10.40" height="65.64" fill="#e0287f" stroke="#111" stroke-width="1.4" />
<line x1="163.80" y1="355.00" x2="163.80" y2="366.00" stroke="#111" stroke-width="1.3" />
<line x1="160.20" y1="355.00" x2="167.40" y2="355.00" stroke="#111" stroke-width="1.3" />
<line x1="160.20" y1="366.00" x2="167.40" y2="366.00" stroke="#111" stroke-width="1.3" />
<line x1="178.80" y1="360.00" x2="178.80" y2="372.00" stroke="#111" stroke-width="1.3" />
<line x1="175.20" y1="360.00" x2="182.40" y2="360.00" stroke="#111" stroke-width="1.3" />
<line x1="175.20" y1="372.00" x2="182.40" y2="372.00" stroke="#111" stroke-width="1.3" />
<line x1="194.00" y1="356.00" x2="194.00" y2="364.00" stroke="#111" stroke-width="1.3" />
<line x1="190.40" y1="356.00" x2="197.60" y2="356.00" stroke="#111" stroke-width="1.3" />
<line x1="190.40" y1="364.00" x2="197.60" y2="364.00" stroke="#111" stroke-width="1.3" />
<circle cx="52.75" cy="424.30" r="2.6" fill="#e3262b" stroke="#1a1a1a" stroke-width="1.05"/>
<circle cx="56.35" cy="424.30" r="2.6" fill="#e3262b" stroke="#1a1a1a" stroke-width="1.05"/>
<circle cx="54.55" cy="423.40" r="2.6" fill="#e3262b" stroke="#1a1a1a" stroke-width="1.05"/>
<circle cx="67.70" cy="424.30" r="2.6" fill="#e3262b" stroke="#1a1a1a" stroke-width="1.05"/>
<circle cx="71.30" cy="424.30" r="2.6" fill="#e3262b" stroke="#1a1a1a" stroke-width="1.05"/>
<circle cx="69.50" cy="423.40" r="2.6" fill="#e3262b" stroke="#1a1a1a" stroke-width="1.05"/>
<circle cx="82.65" cy="424.60" r="2.6" fill="#e3262b" stroke="#1a1a1a" stroke-width="1.05"/>
<circle cx="86.25" cy="424.60" r="2.6" fill="#e3262b" stroke="#1a1a1a" stroke-width="1.05"/>
<circle cx="84.45" cy="423.70" r="2.6" fill="#e3262b" stroke="#1a1a1a" stroke-width="1.05"/>
<circle cx="107.40" cy="422.50" r="2.6" fill="#e3262b" stroke="#1a1a1a" stroke-width="1.05"/>
<circle cx="111.00" cy="422.50" r="2.6" fill="#e3262b" stroke="#1a1a1a" stroke-width="1.05"/>
<circle cx="109.20" cy="421.60" r="2.6" fill="#e3262b" stroke="#1a1a1a" stroke-width="1.05"/>
<circle cx="122.35" cy="423.30" r="2.6" fill="#e3262b" stroke="#1a1a1a" stroke-width="1.05"/>
<circle cx="125.95" cy="423.30" r="2.6" fill="#e3262b" stroke="#1a1a1a" stroke-width="1.05"/>
<circle cx="124.15" cy="422.40" r="2.6" fill="#e3262b" stroke="#1a1a1a" stroke-width="1.05"/>
<circle cx="137.30" cy="423.60" r="2.6" fill="#e3262b" stroke="#1a1a1a" stroke-width="1.05"/>
<circle cx="140.90" cy="423.60" r="2.6" fill="#e3262b" stroke="#1a1a1a" stroke-width="1.05"/>
<circle cx="139.10" cy="422.70" r="2.6" fill="#e3262b" stroke="#1a1a1a" stroke-width="1.05"/>
<circle cx="164.00" cy="352.40" r="2.6" fill="#e3262b" stroke="#1a1a1a" stroke-width="1.05"/>
<circle cx="168.00" cy="360.40" r="2.6" fill="#e3262b" stroke="#1a1a1a" stroke-width="1.05"/>
<circle cx="161.40" cy="368.40" r="2.6" fill="#e3262b" stroke="#1a1a1a" stroke-width="1.05"/>
<circle cx="175.00" cy="356.00" r="2.6" fill="#e3262b" stroke="#1a1a1a" stroke-width="1.05"/>
<circle cx="181.60" cy="363.00" r="2.6" fill="#e3262b" stroke="#1a1a1a" stroke-width="1.05"/>
<circle cx="179.00" cy="376.00" r="2.6" fill="#e3262b" stroke="#1a1a1a" stroke-width="1.05"/>
<circle cx="194.00" cy="351.60" r="2.6" fill="#e3262b" stroke="#1a1a1a" stroke-width="1.05"/>
<circle cx="191.40" cy="364.00" r="2.6" fill="#e3262b" stroke="#1a1a1a" stroke-width="1.05"/>
<circle cx="198.20" cy="362.60" r="2.6" fill="#e3262b" stroke="#1a1a1a" stroke-width="1.05"/>
<text x="44.40" y="303.60" font-size="10.2" font-weight="bold" text-anchor="start" fill="#000" stroke="#000" stroke-width="0.25" textLength="44.60" lengthAdjust="spacingAndGlyphs" >MCF-10A</text>
<text transform="translate(21.20 437.7) rotate(-90)" font-size="12" font-weight="bold" fill="#111" stroke="#111" stroke-width="0.25" textLength="48.8" lengthAdjust="spacingAndGlyphs">Cell death</text>
<text transform="translate(19.60 385.7) rotate(-90)" font-size="7.8" font-weight="bold" fill="#111" stroke="#111" stroke-width="0.25" textLength="82" lengthAdjust="spacingAndGlyphs">(% of PI positive cells)</text>
<line x1="278.40" y1="316.20" x2="278.40" y2="425.80" stroke="#111" stroke-width="1.25" />
<line x1="277.80" y1="425.20" x2="442.40" y2="425.20" stroke="#111" stroke-width="1.25" />
<line x1="275.20" y1="425.20" x2="278.40" y2="425.20" stroke="#111" stroke-width="1.2" />
<text x="274.00" y="427.70" font-size="8" font-weight="bold" text-anchor="end" fill="#111" stroke="#111" stroke-width="0.25" >0</text>
<line x1="275.20" y1="403.50" x2="278.40" y2="403.50" stroke="#111" stroke-width="1.2" />
<text x="274.00" y="406.00" font-size="8" font-weight="bold" text-anchor="end" fill="#111" stroke="#111" stroke-width="0.25" >20</text>
<line x1="275.20" y1="381.80" x2="278.40" y2="381.80" stroke="#111" stroke-width="1.2" />
<text x="274.00" y="384.30" font-size="8" font-weight="bold" text-anchor="end" fill="#111" stroke="#111" stroke-width="0.25" >40</text>
<line x1="275.20" y1="360.10" x2="278.40" y2="360.10" stroke="#111" stroke-width="1.2" />
<text x="274.00" y="362.60" font-size="8" font-weight="bold" text-anchor="end" fill="#111" stroke="#111" stroke-width="0.25" >60</text>
<line x1="275.20" y1="338.40" x2="278.40" y2="338.40" stroke="#111" stroke-width="1.2" />
<text x="274.00" y="340.90" font-size="8" font-weight="bold" text-anchor="end" fill="#111" stroke="#111" stroke-width="0.25" >80</text>
<line x1="275.20" y1="316.70" x2="278.40" y2="316.70" stroke="#111" stroke-width="1.2" />
<text x="274.00" y="319.20" font-size="8" font-weight="bold" text-anchor="end" fill="#111" stroke="#111" stroke-width="0.25" >100</text>
<line x1="305.90" y1="425.20" x2="305.90" y2="428.20" stroke="#111" stroke-width="1.2" />
<text x="305.90" y="437.80" font-size="9.2" font-weight="bold" text-anchor="middle" fill="#111" stroke="#111" stroke-width="0.25" >1h</text>
<rect x="285.75" y="405.67" width="10.40" height="19.53" fill="#b5b5b5" stroke="#111" stroke-width="1.4" />
<rect x="300.70" y="410.01" width="10.40" height="15.19" fill="#7dc6e4" stroke="#111" stroke-width="1.4" />
<rect x="315.65" y="420.64" width="10.40" height="4.56" fill="#e0287f" stroke="#111" stroke-width="1.4" />
<line x1="360.55" y1="425.20" x2="360.55" y2="428.20" stroke="#111" stroke-width="1.2" />
<text x="360.55" y="437.80" font-size="9.2" font-weight="bold" text-anchor="middle" fill="#111" stroke="#111" stroke-width="0.25" >3h</text>
<rect x="340.40" y="373.12" width="10.40" height="52.08" fill="#b5b5b5" stroke="#111" stroke-width="1.4" />
<rect x="355.35" y="399.16" width="10.40" height="26.04" fill="#7dc6e4" stroke="#111" stroke-width="1.4" />
<rect x="370.30" y="412.18" width="10.40" height="13.02" fill="#e0287f" stroke="#111" stroke-width="1.4" />
<line x1="415.20" y1="425.20" x2="415.20" y2="428.20" stroke="#111" stroke-width="1.2" />
<text x="415.20" y="437.80" font-size="9.2" font-weight="bold" text-anchor="middle" fill="#111" stroke="#111" stroke-width="0.25" >24h</text>
<rect x="395.05" y="328.63" width="10.40" height="96.56" fill="#b5b5b5" stroke="#111" stroke-width="1.4" />
<rect x="410.00" y="328.63" width="10.40" height="96.56" fill="#7dc6e4" stroke="#111" stroke-width="1.4" />
<rect x="424.95" y="367.69" width="10.40" height="57.50" fill="#e0287f" stroke="#111" stroke-width="1.4" />
<line x1="290.80" y1="402.00" x2="290.80" y2="409.00" stroke="#111" stroke-width="1.3" />
<line x1="287.20" y1="402.00" x2="294.40" y2="402.00" stroke="#111" stroke-width="1.3" />
<line x1="287.20" y1="409.00" x2="294.40" y2="409.00" stroke="#111" stroke-width="1.3" />
<line x1="305.80" y1="406.00" x2="305.80" y2="413.00" stroke="#111" stroke-width="1.3" />
<line x1="302.20" y1="406.00" x2="309.40" y2="406.00" stroke="#111" stroke-width="1.3" />
<line x1="302.20" y1="413.00" x2="309.40" y2="413.00" stroke="#111" stroke-width="1.3" />
<line x1="320.60" y1="419.00" x2="320.60" y2="423.00" stroke="#111" stroke-width="1.3" />
<line x1="317.00" y1="419.00" x2="324.20" y2="419.00" stroke="#111" stroke-width="1.3" />
<line x1="317.00" y1="423.00" x2="324.20" y2="423.00" stroke="#111" stroke-width="1.3" />
<line x1="345.50" y1="368.00" x2="345.50" y2="378.00" stroke="#111" stroke-width="1.3" />
<line x1="341.90" y1="368.00" x2="349.10" y2="368.00" stroke="#111" stroke-width="1.3" />
<line x1="341.90" y1="378.00" x2="349.10" y2="378.00" stroke="#111" stroke-width="1.3" />
<line x1="360.50" y1="396.00" x2="360.50" y2="402.00" stroke="#111" stroke-width="1.3" />
<line x1="356.90" y1="396.00" x2="364.10" y2="396.00" stroke="#111" stroke-width="1.3" />
<line x1="356.90" y1="402.00" x2="364.10" y2="402.00" stroke="#111" stroke-width="1.3" />
<line x1="375.40" y1="411.00" x2="375.40" y2="413.00" stroke="#111" stroke-width="1.3" />
<line x1="371.80" y1="411.00" x2="379.00" y2="411.00" stroke="#111" stroke-width="1.3" />
<line x1="371.80" y1="413.00" x2="379.00" y2="413.00" stroke="#111" stroke-width="1.3" />
<line x1="399.90" y1="321.60" x2="399.90" y2="334.50" stroke="#111" stroke-width="1.3" />
<line x1="396.30" y1="321.60" x2="403.50" y2="321.60" stroke="#111" stroke-width="1.3" />
<line x1="396.30" y1="334.50" x2="403.50" y2="334.50" stroke="#111" stroke-width="1.3" />
<line x1="414.80" y1="325.30" x2="414.80" y2="330.00" stroke="#111" stroke-width="1.3" />
<line x1="411.20" y1="325.30" x2="418.40" y2="325.30" stroke="#111" stroke-width="1.3" />
<line x1="411.20" y1="330.00" x2="418.40" y2="330.00" stroke="#111" stroke-width="1.3" />
<line x1="429.70" y1="366.00" x2="429.70" y2="370.00" stroke="#111" stroke-width="1.3" />
<line x1="426.10" y1="366.00" x2="433.30" y2="366.00" stroke="#111" stroke-width="1.3" />
<line x1="426.10" y1="370.00" x2="433.30" y2="370.00" stroke="#111" stroke-width="1.3" />
<circle cx="291.00" cy="400.00" r="2.6" fill="#6cbd6a" stroke="#1a1a1a" stroke-width="1.05"/>
<circle cx="288.00" cy="408.60" r="2.6" fill="#6cbd6a" stroke="#1a1a1a" stroke-width="1.05"/>
<circle cx="295.00" cy="408.60" r="2.6" fill="#6cbd6a" stroke="#1a1a1a" stroke-width="1.05"/>
<circle cx="305.40" cy="404.60" r="2.6" fill="#6cbd6a" stroke="#1a1a1a" stroke-width="1.05"/>
<circle cx="310.00" cy="409.00" r="2.6" fill="#6cbd6a" stroke="#1a1a1a" stroke-width="1.05"/>
<circle cx="303.00" cy="415.40" r="2.6" fill="#6cbd6a" stroke="#1a1a1a" stroke-width="1.05"/>
<circle cx="319.60" cy="417.00" r="2.6" fill="#6cbd6a" stroke="#1a1a1a" stroke-width="1.05"/>
<circle cx="321.00" cy="422.00" r="2.6" fill="#6cbd6a" stroke="#1a1a1a" stroke-width="1.05"/>
<circle cx="319.60" cy="424.00" r="2.6" fill="#6cbd6a" stroke="#1a1a1a" stroke-width="1.05"/>
<circle cx="345.40" cy="363.00" r="2.6" fill="#6cbd6a" stroke="#1a1a1a" stroke-width="1.05"/>
<circle cx="349.00" cy="376.40" r="2.6" fill="#6cbd6a" stroke="#1a1a1a" stroke-width="1.05"/>
<circle cx="343.00" cy="380.00" r="2.6" fill="#6cbd6a" stroke="#1a1a1a" stroke-width="1.05"/>
<circle cx="360.00" cy="393.60" r="2.6" fill="#6cbd6a" stroke="#1a1a1a" stroke-width="1.05"/>
<circle cx="364.40" cy="399.40" r="2.6" fill="#6cbd6a" stroke="#1a1a1a" stroke-width="1.05"/>
<circle cx="358.40" cy="404.40" r="2.6" fill="#6cbd6a" stroke="#1a1a1a" stroke-width="1.05"/>
<circle cx="374.40" cy="410.40" r="2.6" fill="#6cbd6a" stroke="#1a1a1a" stroke-width="1.05"/>
<circle cx="376.40" cy="412.40" r="2.6" fill="#6cbd6a" stroke="#1a1a1a" stroke-width="1.05"/>
<circle cx="375.00" cy="413.00" r="2.6" fill="#6cbd6a" stroke="#1a1a1a" stroke-width="1.05"/>
<circle cx="400.00" cy="317.00" r="2.6" fill="#6cbd6a" stroke="#1a1a1a" stroke-width="1.05"/>
<circle cx="400.00" cy="328.00" r="2.6" fill="#6cbd6a" stroke="#1a1a1a" stroke-width="1.05"/>
<circle cx="400.00" cy="338.60" r="2.6" fill="#6cbd6a" stroke="#1a1a1a" stroke-width="1.05"/>
<circle cx="414.90" cy="322.00" r="2.6" fill="#6cbd6a" stroke="#1a1a1a" stroke-width="1.05"/>
<circle cx="419.00" cy="330.40" r="2.6" fill="#6cbd6a" stroke="#1a1a1a" stroke-width="1.05"/>
<circle cx="412.50" cy="333.50" r="2.6" fill="#6cbd6a" stroke="#1a1a1a" stroke-width="1.05"/>
<circle cx="429.00" cy="364.00" r="2.6" fill="#6cbd6a" stroke="#1a1a1a" stroke-width="1.05"/>
<circle cx="430.40" cy="368.40" r="2.6" fill="#6cbd6a" stroke="#1a1a1a" stroke-width="1.05"/>
<circle cx="429.00" cy="370.60" r="2.6" fill="#6cbd6a" stroke="#1a1a1a" stroke-width="1.05"/>
<polygon points="320.40,404.75 321.09,406.05 322.54,406.30 321.51,407.36 321.72,408.82 320.40,408.17 319.08,408.82 319.29,407.36 318.26,406.30 319.71,406.05" fill="#111"/>
<polygon points="358.38,379.75 359.06,381.05 360.51,381.30 359.49,382.36 359.70,383.82 358.38,383.17 357.05,383.82 357.26,382.36 356.24,381.30 357.69,381.05" fill="#111"/>
<polygon points="362.62,379.75 363.31,381.05 364.76,381.30 363.74,382.36 363.95,383.82 362.62,383.17 361.30,383.82 361.51,382.36 360.49,381.30 361.94,381.05" fill="#111"/>
<polygon points="372.25,399.05 372.94,400.35 374.39,400.60 373.36,401.66 373.57,403.12 372.25,402.47 370.93,403.12 371.14,401.66 370.11,400.60 371.56,400.35" fill="#111"/>
<polygon points="376.50,399.05 377.19,400.35 378.64,400.60 377.61,401.66 377.82,403.12 376.50,402.47 375.18,403.12 375.39,401.66 374.36,400.60 375.81,400.35" fill="#111"/>
<polygon points="380.75,399.05 381.44,400.35 382.89,400.60 381.86,401.66 382.07,403.12 380.75,402.47 379.43,403.12 379.64,401.66 378.61,400.60 380.06,400.35" fill="#111"/>
<polygon points="425.75,352.15 426.44,353.45 427.89,353.70 426.86,354.76 427.07,356.22 425.75,355.57 424.43,356.22 424.64,354.76 423.61,353.70 425.06,353.45" fill="#111"/>
<polygon points="430.00,352.15 430.69,353.45 432.14,353.70 431.11,354.76 431.32,356.22 430.00,355.57 428.68,356.22 428.89,354.76 427.86,353.70 429.31,353.45" fill="#111"/>
<polygon points="434.25,352.15 434.94,353.45 436.39,353.70 435.36,354.76 435.57,356.22 434.25,355.57 432.93,356.22 433.14,354.76 432.11,353.70 433.56,353.45" fill="#111"/>
<text x="281.00" y="303.60" font-size="10.2" font-weight="bold" text-anchor="start" fill="#000" stroke="#000" stroke-width="0.25" textLength="31.00" lengthAdjust="spacingAndGlyphs" >MCF-7</text>
<text transform="translate(257.20 437.7) rotate(-90)" font-size="12" font-weight="bold" fill="#111" stroke="#111" stroke-width="0.25" textLength="48.8" lengthAdjust="spacingAndGlyphs">Cell death</text>
<text transform="translate(255.60 385.7) rotate(-90)" font-size="7.8" font-weight="bold" fill="#111" stroke="#111" stroke-width="0.25" textLength="82" lengthAdjust="spacingAndGlyphs">(% of PI positive cells)</text>
<line x1="398.40" y1="303.40" x2="429.60" y2="303.40" stroke="#111" stroke-width="1.2" />
<line x1="398.40" y1="302.80" x2="398.40" y2="309.40" stroke="#111" stroke-width="1.2" />
<line x1="429.60" y1="302.80" x2="429.60" y2="345.00" stroke="#111" stroke-width="1.2" />
<text x="415.20" y="300.20" font-size="9.2" font-weight="normal" text-anchor="middle" fill="#000" stroke="#000" stroke-width="0.3" textLength="17.5" lengthAdjust="spacingAndGlyphs">36%</text>
<line x1="506.70" y1="316.20" x2="506.70" y2="425.80" stroke="#111" stroke-width="1.25" />
<line x1="506.10" y1="425.20" x2="670.70" y2="425.20" stroke="#111" stroke-width="1.25" />
<line x1="503.50" y1="425.20" x2="506.70" y2="425.20" stroke="#111" stroke-width="1.2" />
<text x="502.30" y="427.70" font-size="8" font-weight="bold" text-anchor="end" fill="#111" stroke="#111" stroke-width="0.25" >0</text>
<line x1="503.50" y1="403.50" x2="506.70" y2="403.50" stroke="#111" stroke-width="1.2" />
<text x="502.30" y="406.00" font-size="8" font-weight="bold" text-anchor="end" fill="#111" stroke="#111" stroke-width="0.25" >20</text>
<line x1="503.50" y1="381.80" x2="506.70" y2="381.80" stroke="#111" stroke-width="1.2" />
<text x="502.30" y="384.30" font-size="8" font-weight="bold" text-anchor="end" fill="#111" stroke="#111" stroke-width="0.25" >40</text>
<line x1="503.50" y1="360.10" x2="506.70" y2="360.10" stroke="#111" stroke-width="1.2" />
<text x="502.30" y="362.60" font-size="8" font-weight="bold" text-anchor="end" fill="#111" stroke="#111" stroke-width="0.25" >60</text>
<line x1="503.50" y1="338.40" x2="506.70" y2="338.40" stroke="#111" stroke-width="1.2" />
<text x="502.30" y="340.90" font-size="8" font-weight="bold" text-anchor="end" fill="#111" stroke="#111" stroke-width="0.25" >80</text>
<line x1="503.50" y1="316.70" x2="506.70" y2="316.70" stroke="#111" stroke-width="1.2" />
<text x="502.30" y="319.20" font-size="8" font-weight="bold" text-anchor="end" fill="#111" stroke="#111" stroke-width="0.25" >100</text>
<line x1="534.20" y1="425.20" x2="534.20" y2="428.20" stroke="#111" stroke-width="1.2" />
<text x="534.20" y="437.80" font-size="9.2" font-weight="bold" text-anchor="middle" fill="#111" stroke="#111" stroke-width="0.25" >1h</text>
<rect x="514.05" y="393.19" width="10.40" height="32.01" fill="#b5b5b5" stroke="#111" stroke-width="1.4" />
<rect x="529.00" y="414.35" width="10.40" height="10.85" fill="#7dc6e4" stroke="#111" stroke-width="1.4" />
<rect x="543.95" y="410.55" width="10.40" height="14.65" fill="#e0287f" stroke="#111" stroke-width="1.4" />
<line x1="588.85" y1="425.20" x2="588.85" y2="428.20" stroke="#111" stroke-width="1.2" />
<text x="588.85" y="437.80" font-size="9.2" font-weight="bold" text-anchor="middle" fill="#111" stroke="#111" stroke-width="0.25" >3h</text>
<rect x="568.70" y="364.98" width="10.40" height="60.22" fill="#b5b5b5" stroke="#111" stroke-width="1.4" />
<rect x="583.65" y="383.97" width="10.40" height="41.23" fill="#7dc6e4" stroke="#111" stroke-width="1.4" />
<rect x="598.60" y="392.65" width="10.40" height="32.55" fill="#e0287f" stroke="#111" stroke-width="1.4" />
<line x1="643.50" y1="425.20" x2="643.50" y2="428.20" stroke="#111" stroke-width="1.2" />
<text x="643.50" y="437.80" font-size="9.2" font-weight="bold" text-anchor="middle" fill="#111" stroke="#111" stroke-width="0.25" >24h</text>
<rect x="623.35" y="321.04" width="10.40" height="104.16" fill="#b5b5b5" stroke="#111" stroke-width="1.4" />
<rect x="638.30" y="339.49" width="10.40" height="85.71" fill="#7dc6e4" stroke="#111" stroke-width="1.4" />
<rect x="653.25" y="357.93" width="10.40" height="67.27" fill="#e0287f" stroke="#111" stroke-width="1.4" />
<line x1="549.00" y1="406.00" x2="549.00" y2="416.00" stroke="#111" stroke-width="1.3" />
<line x1="545.40" y1="406.00" x2="552.60" y2="406.00" stroke="#111" stroke-width="1.3" />
<line x1="545.40" y1="416.00" x2="552.60" y2="416.00" stroke="#111" stroke-width="1.3" />
<line x1="573.60" y1="361.00" x2="573.60" y2="368.00" stroke="#111" stroke-width="1.3" />
<line x1="570.00" y1="361.00" x2="577.20" y2="361.00" stroke="#111" stroke-width="1.3" />
<line x1="570.00" y1="368.00" x2="577.20" y2="368.00" stroke="#111" stroke-width="1.3" />
<line x1="603.50" y1="389.00" x2="603.50" y2="395.00" stroke="#111" stroke-width="1.3" />
<line x1="599.90" y1="389.00" x2="607.10" y2="389.00" stroke="#111" stroke-width="1.3" />
<line x1="599.90" y1="395.00" x2="607.10" y2="395.00" stroke="#111" stroke-width="1.3" />
<line x1="628.30" y1="318.00" x2="628.30" y2="323.00" stroke="#111" stroke-width="1.3" />
<line x1="624.70" y1="318.00" x2="631.90" y2="318.00" stroke="#111" stroke-width="1.3" />
<line x1="624.70" y1="323.00" x2="631.90" y2="323.00" stroke="#111" stroke-width="1.3" />
<line x1="642.80" y1="332.60" x2="642.80" y2="344.00" stroke="#111" stroke-width="1.3" />
<line x1="639.20" y1="332.60" x2="646.40" y2="332.60" stroke="#111" stroke-width="1.3" />
<line x1="639.20" y1="344.00" x2="646.40" y2="344.00" stroke="#111" stroke-width="1.3" />
<line x1="658.00" y1="351.00" x2="658.00" y2="366.00" stroke="#111" stroke-width="1.3" />
<line x1="654.40" y1="351.00" x2="661.60" y2="351.00" stroke="#111" stroke-width="1.3" />
<line x1="654.40" y1="366.00" x2="661.60" y2="366.00" stroke="#111" stroke-width="1.3" />
<circle cx="518.30" cy="391.80" r="2.6" fill="#4a5fc1" stroke="#1a1a1a" stroke-width="1.05"/>
<circle cx="518.60" cy="395.80" r="2.6" fill="#4a5fc1" stroke="#1a1a1a" stroke-width="1.05"/>
<circle cx="519.50" cy="393.50" r="2.6" fill="#4a5fc1" stroke="#1a1a1a" stroke-width="1.05"/>
<circle cx="533.60" cy="413.40" r="2.6" fill="#4a5fc1" stroke="#1a1a1a" stroke-width="1.05"/>
<circle cx="535.00" cy="415.00" r="2.6" fill="#4a5fc1" stroke="#1a1a1a" stroke-width="1.05"/>
<circle cx="534.50" cy="414.00" r="2.6" fill="#4a5fc1" stroke="#1a1a1a" stroke-width="1.05"/>
<circle cx="544.40" cy="406.40" r="2.6" fill="#4a5fc1" stroke="#1a1a1a" stroke-width="1.05"/>
<circle cx="551.00" cy="407.60" r="2.6" fill="#4a5fc1" stroke="#1a1a1a" stroke-width="1.05"/>
<circle cx="549.00" cy="417.00" r="2.6" fill="#4a5fc1" stroke="#1a1a1a" stroke-width="1.05"/>
<circle cx="573.60" cy="358.60" r="2.6" fill="#4a5fc1" stroke="#1a1a1a" stroke-width="1.05"/>
<circle cx="571.60" cy="367.00" r="2.6" fill="#4a5fc1" stroke="#1a1a1a" stroke-width="1.05"/>
<circle cx="578.00" cy="367.00" r="2.6" fill="#4a5fc1" stroke="#1a1a1a" stroke-width="1.05"/>
<circle cx="588.00" cy="383.40" r="2.6" fill="#4a5fc1" stroke="#1a1a1a" stroke-width="1.05"/>
<circle cx="589.50" cy="384.00" r="2.6" fill="#4a5fc1" stroke="#1a1a1a" stroke-width="1.05"/>
<circle cx="587.50" cy="384.50" r="2.6" fill="#4a5fc1" stroke="#1a1a1a" stroke-width="1.05"/>
<circle cx="604.00" cy="387.60" r="2.6" fill="#4a5fc1" stroke="#1a1a1a" stroke-width="1.05"/>
<circle cx="608.00" cy="390.60" r="2.6" fill="#4a5fc1" stroke="#1a1a1a" stroke-width="1.05"/>
<circle cx="601.00" cy="396.40" r="2.6" fill="#4a5fc1" stroke="#1a1a1a" stroke-width="1.05"/>
<circle cx="627.00" cy="317.00" r="2.6" fill="#4a5fc1" stroke="#1a1a1a" stroke-width="1.05"/>
<circle cx="628.00" cy="321.60" r="2.6" fill="#4a5fc1" stroke="#1a1a1a" stroke-width="1.05"/>
<circle cx="629.00" cy="323.60" r="2.6" fill="#4a5fc1" stroke="#1a1a1a" stroke-width="1.05"/>
<circle cx="643.40" cy="327.60" r="2.6" fill="#4a5fc1" stroke="#1a1a1a" stroke-width="1.05"/>
<circle cx="643.00" cy="338.60" r="2.6" fill="#4a5fc1" stroke="#1a1a1a" stroke-width="1.05"/>
<circle cx="643.40" cy="350.00" r="2.6" fill="#4a5fc1" stroke="#1a1a1a" stroke-width="1.05"/>
<circle cx="654.00" cy="348.00" r="2.6" fill="#4a5fc1" stroke="#1a1a1a" stroke-width="1.05"/>
<circle cx="661.00" cy="351.60" r="2.6" fill="#4a5fc1" stroke="#1a1a1a" stroke-width="1.05"/>
<circle cx="657.60" cy="374.00" r="2.6" fill="#4a5fc1" stroke="#1a1a1a" stroke-width="1.05"/>
<polygon points="534.00,399.75 534.69,401.05 536.14,401.30 535.11,402.36 535.32,403.82 534.00,403.17 532.68,403.82 532.89,402.36 531.86,401.30 533.31,401.05" fill="#111"/>
<polygon points="589.00,367.25 589.69,368.55 591.14,368.80 590.11,369.86 590.32,371.32 589.00,370.67 587.68,371.32 587.89,369.86 586.86,368.80 588.31,368.55" fill="#111"/>
<polygon points="601.88,375.75 602.56,377.05 604.01,377.30 602.99,378.36 603.20,379.82 601.88,379.17 600.55,379.82 600.76,378.36 599.74,377.30 601.19,377.05" fill="#111"/>
<polygon points="606.12,375.75 606.81,377.05 608.26,377.30 607.24,378.36 607.45,379.82 606.12,379.17 604.80,379.82 605.01,378.36 603.99,377.30 605.44,377.05" fill="#111"/>
<polygon points="644.00,316.35 644.69,317.65 646.14,317.90 645.11,318.96 645.32,320.42 644.00,319.77 642.68,320.42 642.89,318.96 641.86,317.90 643.31,317.65" fill="#111"/>
<polygon points="655.35,335.75 656.04,337.05 657.49,337.30 656.46,338.36 656.67,339.82 655.35,339.17 654.03,339.82 654.24,338.36 653.21,337.30 654.66,337.05" fill="#111"/>
<polygon points="659.60,335.75 660.29,337.05 661.74,337.30 660.71,338.36 660.92,339.82 659.60,339.17 658.28,339.82 658.49,338.36 657.46,337.30 658.91,337.05" fill="#111"/>
<polygon points="663.85,335.75 664.54,337.05 665.99,337.30 664.96,338.36 665.17,339.82 663.85,339.17 662.53,339.82 662.74,338.36 661.71,337.30 663.16,337.05" fill="#111"/>
<text x="509.00" y="303.60" font-size="10.2" font-weight="bold" text-anchor="start" fill="#000" stroke="#000" stroke-width="0.25" textLength="62.60" lengthAdjust="spacingAndGlyphs" >MDA-MB-231</text>
<text transform="translate(486.20 437.7) rotate(-90)" font-size="12" font-weight="bold" fill="#111" stroke="#111" stroke-width="0.25" textLength="48.8" lengthAdjust="spacingAndGlyphs">Cell death</text>
<text transform="translate(484.60 385.7) rotate(-90)" font-size="7.8" font-weight="bold" fill="#111" stroke="#111" stroke-width="0.25" textLength="82" lengthAdjust="spacingAndGlyphs">(% of PI positive cells)</text>
<line x1="626.60" y1="303.00" x2="658.00" y2="303.00" stroke="#111" stroke-width="1.2" />
<line x1="626.60" y1="302.40" x2="626.60" y2="309.40" stroke="#111" stroke-width="1.2" />
<line x1="658.00" y1="302.40" x2="658.00" y2="328.40" stroke="#111" stroke-width="1.2" />
<text x="644.20" y="299.80" font-size="9.2" font-weight="normal" text-anchor="middle" fill="#000" stroke="#000" stroke-width="0.3" textLength="17.5" lengthAdjust="spacingAndGlyphs">34%</text>
<rect x="22.90" y="447.80" width="11.00" height="8.40" fill="#b5b5b5" stroke="#111" stroke-width="1.2" />
<text x="38.70" y="455.00" font-size="7.2" font-weight="bold" text-anchor="start" fill="#111" stroke="#111" stroke-width="0.25" textLength="28.00" lengthAdjust="spacingAndGlyphs" >MB-PDT</text>
<rect x="76.40" y="447.80" width="11.00" height="8.40" fill="#7dc6e4" stroke="#111" stroke-width="1.2" />
<text x="91.50" y="455.00" font-size="7.2" font-weight="bold" text-anchor="start" fill="#111" stroke="#111" stroke-width="0.25" textLength="55.80" lengthAdjust="spacingAndGlyphs" >MB-PDT + Nec-1</text>
<rect x="154.10" y="447.80" width="11.00" height="8.40" fill="#e0287f" stroke="#111" stroke-width="1.2" />
<text x="168.00" y="455.00" font-size="7.2" font-weight="bold" text-anchor="start" fill="#111" stroke="#111" stroke-width="0.25" textLength="52.00" lengthAdjust="spacingAndGlyphs" >MB-PDT + NSA</text>
<rect x="258.50" y="447.80" width="11.00" height="8.40" fill="#b5b5b5" stroke="#111" stroke-width="1.2" />
<text x="274.30" y="455.00" font-size="7.2" font-weight="bold" text-anchor="start" fill="#111" stroke="#111" stroke-width="0.25" textLength="28.00" lengthAdjust="spacingAndGlyphs" >MB-PDT</text>
<rect x="312.00" y="447.80" width="11.00" height="8.40" fill="#7dc6e4" stroke="#111" stroke-width="1.2" />
<text x="327.10" y="455.00" font-size="7.2" font-weight="bold" text-anchor="start" fill="#111" stroke="#111" stroke-width="0.25" textLength="55.80" lengthAdjust="spacingAndGlyphs" >MB-PDT + Nec-1</text>
<rect x="389.70" y="447.80" width="11.00" height="8.40" fill="#e0287f" stroke="#111" stroke-width="1.2" />
<text x="403.60" y="455.00" font-size="7.2" font-weight="bold" text-anchor="start" fill="#111" stroke="#111" stroke-width="0.25" textLength="52.00" lengthAdjust="spacingAndGlyphs" >MB-PDT + NSA</text>
<rect x="487.10" y="447.80" width="11.00" height="8.40" fill="#b5b5b5" stroke="#111" stroke-width="1.2" />
<text x="502.90" y="455.00" font-size="7.2" font-weight="bold" text-anchor="start" fill="#111" stroke="#111" stroke-width="0.25" textLength="28.00" lengthAdjust="spacingAndGlyphs" >MB-PDT</text>
<rect x="540.60" y="447.80" width="11.00" height="8.40" fill="#7dc6e4" stroke="#111" stroke-width="1.2" />
<text x="555.70" y="455.00" font-size="7.2" font-weight="bold" text-anchor="start" fill="#111" stroke="#111" stroke-width="0.25" textLength="55.80" lengthAdjust="spacingAndGlyphs" >MB-PDT + Nec-1</text>
<rect x="618.30" y="447.80" width="11.00" height="8.40" fill="#e0287f" stroke="#111" stroke-width="1.2" />
<text x="632.20" y="455.00" font-size="7.2" font-weight="bold" text-anchor="start" fill="#111" stroke="#111" stroke-width="0.25" textLength="52.00" lengthAdjust="spacingAndGlyphs" >MB-PDT + NSA</text></svg>
</body></html>
